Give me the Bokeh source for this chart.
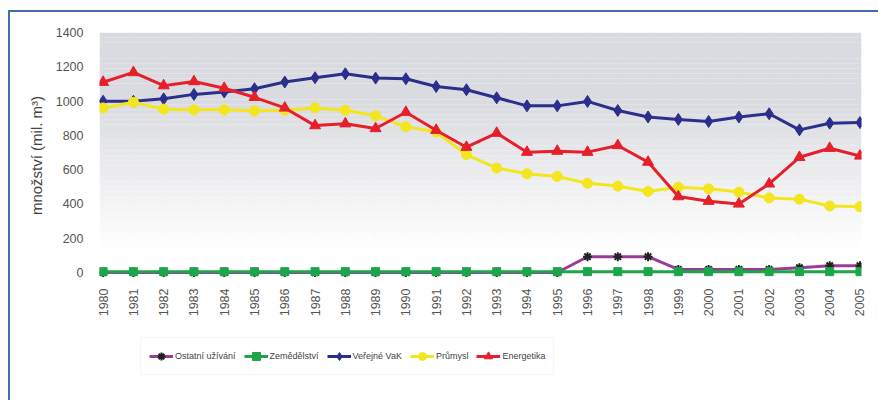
from bokeh.plotting import figure
from bokeh.models import Legend, LegendItem, FixedTicker, Range1d
from bokeh.layouts import column
from bokeh.embed import file_html
from bokeh.resources import INLINE

years = [1980, 1981, 1982, 1983, 1984, 1985, 1986, 1987, 1988, 1989, 1990, 1991, 1992,
         1993, 1994, 1995, 1996, 1997, 1998, 1999, 2000, 2001, 2002, 2003, 2004, 2005]
ostatni = [0, 0, 0, 0, 0, 0, 0, 0, 0, 0, 0, 0, 0, 0, 0, 0, 92, 92, 92, 18, 18, 18, 18, 28, 40, 40]
zemedelstvi = [5, 5, 5, 5, 5, 5, 5, 5, 5, 5, 5, 5, 5, 5, 5, 5, 5, 5, 5, 5, 5, 5, 5, 5, 5, 5]
verejne_vak = [999, 999, 1013, 1039, 1053, 1072, 1111, 1136, 1159, 1134, 1130, 1085, 1066,
               1019, 972, 972, 998, 945, 907, 893, 881, 907, 926, 832, 871, 875]
prumysl = [960, 993, 953, 949, 949, 943, 947, 960, 947, 914, 850, 820, 688,
           609, 576, 560, 521, 504, 473, 498, 488, 469, 435, 428, 388, 384]
energetika = [1110, 1167, 1090, 1114, 1075, 1022, 960, 857, 868, 840, 935, 830, 731,
              813, 702, 708, 702, 741, 644, 443, 416, 400, 517, 672, 725, 680]
y_ticks = [0, 200, 400, 600, 800, 1000, 1200, 1400]
series_names = ["Ostatní užívání", "Zemědělství", "Veřejné VaK", "Průmysl", "Energetika"]
y_label = "množství (mil. m³)"

colors = ["#9a3b98", "#1ca54b", "#2b2f8c", "#f3e61e", "#e5202a"]
marker_kw = [dict(marker="asterisk", size=9, line_color="#222222", line_width=2),
             dict(marker="square", size=8, fill_color="#1ca54b", line_color="#1ca54b"),
             dict(marker="diamond", size=12, fill_color="#2b2f8c", line_color="#2b2f8c"),
             dict(marker="circle", size=10, fill_color="#f3e61e", line_color="#f3e61e"),
             dict(marker="triangle", size=11, fill_color="#e5202a", line_color="#e5202a")]
series = [ostatni, zemedelstvi, verejne_vak, prumysl, energetika]

p = figure(width=878, height=325, output_backend="svg", toolbar_location=None,
           x_range=Range1d(1979.88, 2005.05), y_range=Range1d(-35, 1400),
           min_border_left=99, min_border_right=17, min_border_top=32, min_border_bottom=47,
           background_fill_color="white", border_fill_alpha=0)
p.outline_line_color = None

# background gradient (grey top fading to white)
n = 48
top, bot = 1400, -35
step = (top - bot) / n
tops, bots, cols = [], [], []
for i in range(n):
    t = top - i * step
    b = t - step
    mid = (t + b) / 2
    if mid >= 1000:
        f = 0.0
    elif mid <= 150:
        f = 1.0
    else:
        f = (1000 - mid) / 850
    r0, g0, b0 = 0xda, 0xdb, 0xe0
    rr = int(r0 + (255 - r0) * f)
    gg = int(g0 + (255 - g0) * f)
    bb = int(b0 + (255 - b0) * f)
    tops.append(t)
    bots.append(b)
    cols.append("#%02x%02x%02x" % (rr, gg, bb))
p.quad(left=1979.88, right=2005.05, top=tops, bottom=bots, fill_color=cols, line_color=None)

p.xgrid.ticker = FixedTicker(ticks=years)
p.xgrid.grid_line_color = "#d6d6d6"
p.ygrid.grid_line_color = "#ececec"
p.ygrid.ticker = FixedTicker(ticks=y_ticks)

p.xaxis.ticker = FixedTicker(ticks=years)
p.xaxis.major_label_orientation = 1.5708
p.yaxis.ticker = FixedTicker(ticks=y_ticks)
for ax in (p.xaxis[0], p.yaxis[0]):
    ax.axis_line_color = None
    ax.major_tick_line_color = None
    ax.minor_tick_line_color = None
    ax.major_label_text_color = "#555555"
    ax.major_label_text_font = "Liberation Sans"
p.xaxis.major_label_text_font_size = "12.5px"
p.xaxis.major_label_standoff = 4
p.yaxis.major_label_text_font_size = "12.5px"
p.yaxis.major_label_standoff = 10
p.yaxis.axis_label = y_label
p.yaxis.axis_label_text_font_size = "15px"
p.yaxis.axis_label_text_font_style = "normal"
p.yaxis.axis_label_text_color = "#444444"
p.yaxis.axis_label_text_font = "Liberation Sans"
p.yaxis.axis_label_standoff = 8

lw = 3
for vals, c, mk in zip(series, colors, marker_kw):
    p.line(years, vals, line_color=c, line_width=lw)
    p.scatter(years, vals, **mk)

# legend strip below (its renderers lie outside its ranges, so only the legend shows)
p2 = figure(width=878, height=75, output_backend="svg", toolbar_location=None,
            x_range=Range1d(0, 1), y_range=Range1d(0, 1),
            x_axis_type=None, y_axis_type=None,
            min_border_left=0, min_border_right=0, min_border_top=0, min_border_bottom=0,
            background_fill_alpha=0, border_fill_alpha=0)
p2.outline_line_color = None
p2.xgrid.visible = False
p2.ygrid.visible = False
items = []
for name, vals, c, mk in zip(series_names, series, colors, marker_kw):
    lr = p2.line(years, vals, line_color=c, line_width=lw)
    sr = p2.scatter(years, vals, **mk)
    items.append(LegendItem(label=name, renderers=[lr, sr]))
legend = Legend(items=items, orientation="horizontal", location=(41, 25),
                label_text_font="Liberation Sans", label_text_font_size="9px",
                label_text_color="#444444", glyph_width=24, glyph_height=20,
                label_standoff=2, spacing=8, padding=8, margin=0,
                border_line_color="#eeeeee", background_fill_color="white",
                background_fill_alpha=1.0)
p2.add_layout(legend, "center")

lay = column(p, p2, width=878, height=400, spacing=0, styles={
    "background": "linear-gradient(#4470a8, #4470a8) 8px 10px / 870px 2px no-repeat, "
                  "linear-gradient(#4470a8, #4470a8) 8px 10px / 2px 390px no-repeat, white"
})

open("out.html", "w").write(file_html(lay, INLINE))
